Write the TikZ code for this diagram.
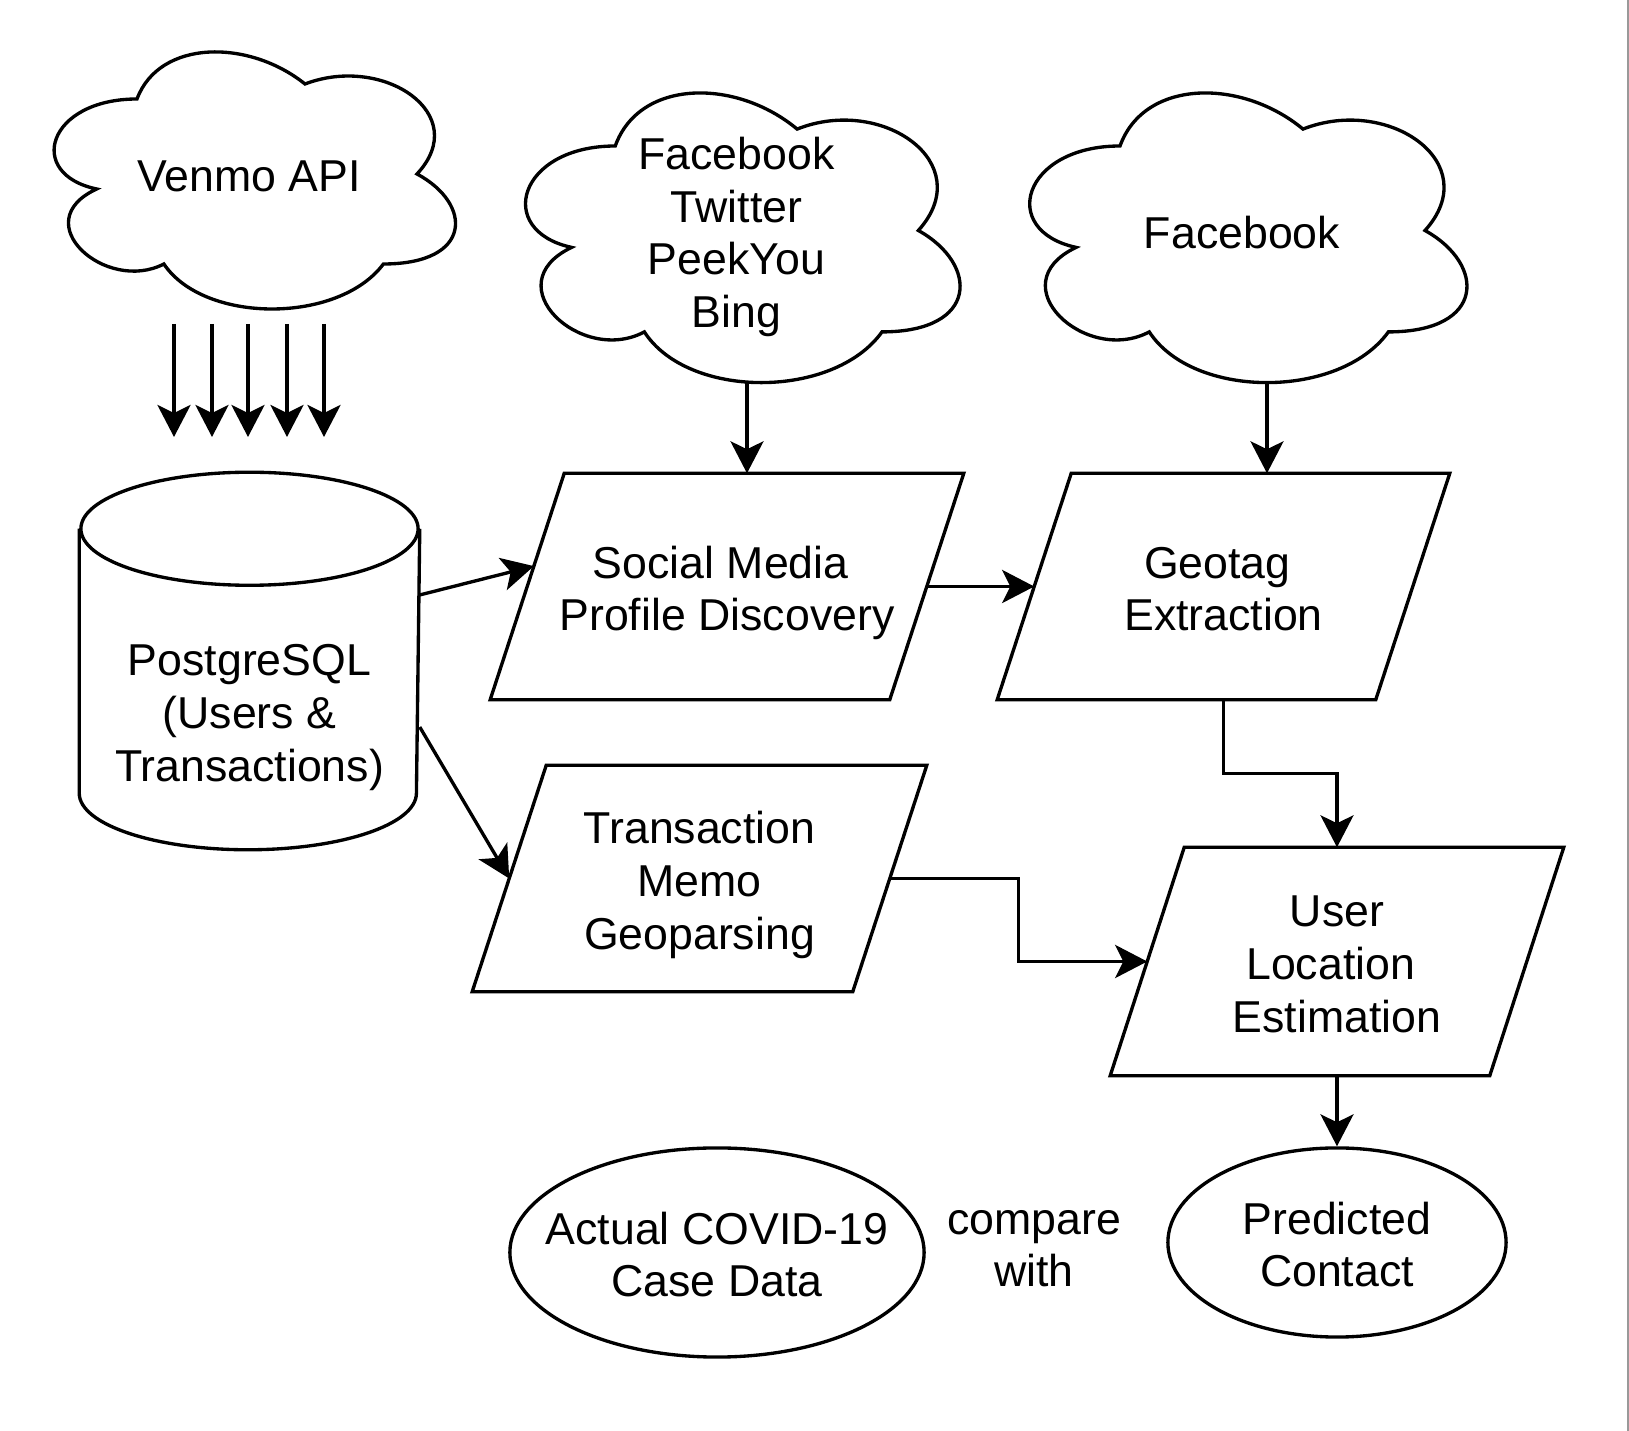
\documentclass[tikz,border=0pt]{standalone}
\usepackage{fontspec}
\setmainfont{Liberation Sans}
\usetikzlibrary{calc,shapes.geometric,arrows.meta}
\def\cloud[#1](#2,#3)(#4,#5){\draw[#1] ({#2+0.25*#4},{#3+0.25*#5}) .. controls ({#2+0.05*#4},{#3+0.25*#5}) and ({#2},{#3+0.5*#5}) .. ({#2+0.16*#4},{#3+0.55*#5}) .. controls ({#2},{#3+0.66*#5}) and ({#2+0.18*#4},{#3+0.9*#5}) .. ({#2+0.31*#4},{#3+0.8*#5}) .. controls ({#2+0.4*#4},{#3+#5}) and ({#2+0.7*#4},{#3+#5}) .. ({#2+0.8*#4},{#3+0.8*#5}) .. controls ({#2+#4},{#3+0.8*#5}) and ({#2+#4},{#3+0.6*#5}) .. ({#2+0.875*#4},{#3+0.5*#5}) .. controls ({#2+#4},{#3+0.3*#5}) and ({#2+0.8*#4},{#3+0.1*#5}) .. ({#2+0.625*#4},{#3+0.2*#5}) .. controls ({#2+0.5*#4},{#3+0.05*#5}) and ({#2+0.3*#4},{#3+0.05*#5}) .. ({#2+0.25*#4},{#3+0.25*#5}) -- cycle;}
\def\paraline(#1){\draw ([xshift=0.74cm]#1.north west) -- (#1.north east) -- ([xshift=-0.74cm]#1.south east) -- (#1.south west) -- cycle;}
\def\ls{\rule[-3.3pt]{0pt}{16.8pt}}

\begin{document}
\begin{tikzpicture}[x=0.01cm, y=-0.01cm, line width=0.95pt,
	every node/.style={font=\fontsize{12.7}{15}\selectfont, align=center, execute at end node=\ls},
	arr/.style={-{Stealth[length=9.1pt, width=9.4pt, inset=2.3pt]}},
	para/.style={minimum height=2.23cm, inner sep=0pt},
	oval/.style={draw, ellipse, inner sep=0pt}]
			%%%%% START %%%%%
			
			\useasboundingbox (0,0) rectangle (1629,1431);
			\draw[black!40, line width=0.4pt] (1628,0) -- (1628,1431);
			
			\cloud[black](25,24)(448,300)
			\node (venmo) at (249,174) {Venmo API};
			
			\cloud[black](494,61.5)(485,338)
			\node (web) at (736.5,230.5) {\ls Facebook\\Twitter\\PeekYou\\Bing};
			\coordinate (web-s) at (747,383);
			
			\cloud[black](998,61.5)(488,338)
			\node (fb) at (1242,230.5) {Facebook};
			\coordinate (fb-s) at (1267,383);
			
			\draw[arr] (174,324) -- (174,437);
			\draw[arr] (212,324) -- (212,437);
			\draw[arr] (248,324) -- (248,437);
			\draw[arr] (287,324) -- (287,437);
			\draw[arr] (324,324) -- (324,437);
			
			\node[minimum width=3.37cm, minimum height=3.74cm, inner sep=0pt] (db) at (249.5,661) {};
			\draw ([yshift=-0.565cm]db.north) ellipse [x radius=1.685cm, y radius=0.565cm];
			\draw ([yshift=-0.565cm]db.north west) -- ([yshift=0.565cm]db.south west) arc[start angle=180, end angle=360, x radius=1.685cm, y radius=0.565cm] -- ([yshift=-0.565cm]db.north east);
			\node (dbtext) at (249.5,710.5) {\ls PostgreSQL\\(Users \&\\Transactions)};
			
			\node[para, minimum width=4.70cm] (smpd) at (727,586.5) {\ls Social Media\kern.28em\\Profile Discovery};
			\paraline(smpd)
			\node[para, minimum width=4.49cm] (geo) at (1223.5,586.5) {\ls Geotag\kern.28em\\Extraction};
			\paraline(geo)
			\node[para, minimum width=4.51cm] (memo) at (699.5,878.5) {\ls Transaction\\Memo\\Geoparsing};
			\paraline(memo)
			\node[para, minimum width=4.50cm, minimum height=2.25cm] (loc) at (1337,961.5) {\ls User\\Location\kern.28em\\Estimation};
			\paraline(loc)
			
			\node[oval, inner xsep=-0.5cm, minimum width=4.14cm, minimum height=2.09cm] (covid) at (717,1252.5) {\ls Actual COVID-19\\Case Data};
			\node (cmp) at (1034,1242.5) {\ls compare\\with};
			\node[oval, minimum width=3.38cm, minimum height=1.89cm] (pred) at (1337,1242.5) {\ls Predicted\\Contact};
			
			\draw[arr] (web-s) -- (web-s |- smpd.north);
			\draw[arr] (fb-s) -- (fb-s |- geo.north);
			\draw[arr] ([yshift=0.66cm]db.east) -- ($([xshift=0.74cm]smpd.north west)!0.41!(smpd.south west)$);
			\draw[arr] ([yshift=-0.66cm]db.east) -- ([xshift=0.37cm]memo.west);
			\draw[arr] ([xshift=-0.37cm]smpd.east) -- ([xshift=0.37cm]geo.west);
			\draw[arr] (geo.south) |- ($(geo.south)!0.5!(loc.north)$) -| (loc.north);
			\draw[arr] ([xshift=-0.37cm]memo.east) -| ($([xshift=-0.37cm]memo.east)!0.5!([xshift=0.37cm]loc.west)$) |- ([xshift=0.37cm]loc.west);
			\draw[arr] (loc.south) -- (pred.north);
			
			%%%%% END %%%%%
\end{tikzpicture}
\end{document}
